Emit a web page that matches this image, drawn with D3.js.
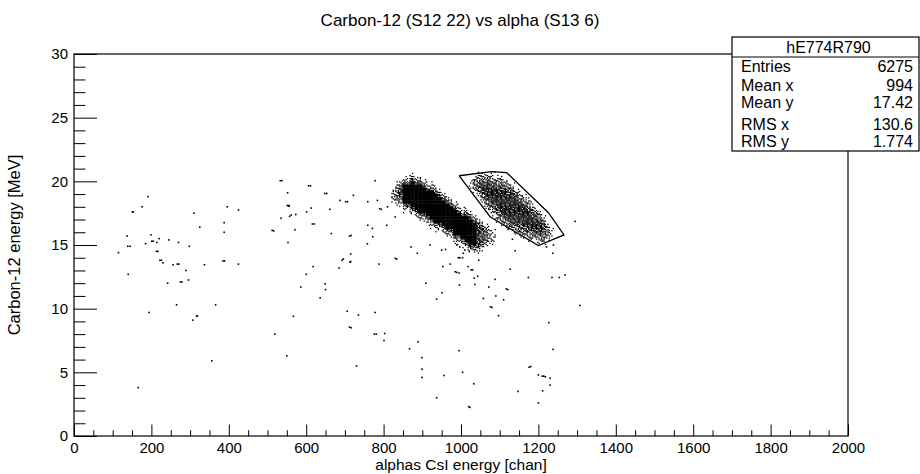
<!DOCTYPE html>
<html>
<head>
<meta charset="utf-8">
<script src="https://cdn.jsdelivr.net/npm/d3@7"></script>
<style>
body { margin: 0; background: #fff; }
text { font-family: "Liberation Sans", Arial, sans-serif; fill: #000; }
</style>
</head>
<body>
<svg id="chart" width="920" height="474"></svg>
<script>
// scattered single events: x = CsI channel, y = Carbon-12 energy (MeV)
var looseX = [115,151,153,176,191,137,139,145,140,199,185,201,205,214,220,213,217,222,226,230,
  242,256,267,271,245,270,298,289,275,279,296,265,194,310,325,337,307,317,319,366,356,166,
  385,389,388,388,396,425,425,512,516,533,537,552,551,556,555,535,557,561,573,571,553,601,
  613,606,611,616,621,648,653,661,687,702,707,722,665,712,716,715,696,693,713,715,685,618,
  600,586,649,650,636,567,706,712,716,735,519,550,730,
  778,759,790,794,784,759,771,772,758,808,810,830,788,778,776,781,803,801,830,834,871,887,
  909,937,951,953,972,985,989,995,1004,993,997,1006,960,996,1018,1026,1030,1034,1036,1043,
  1046,1058,1072,1088,1076,1080,1090,1097,1117,1121,1110,1127,1140,1174,1235,1254,1269,1307,
  1295,1237,1227,1238,1210,1214,1218,1200,1230,1211,1230,1176,1180,1147,1200,1033,1004,995,
  956,937,1020,1023,899,899,899,889,867,920,950,997,1010,989,1133,1221,1239];
var looseY = [14.4,17.6,17.6,18.0,18.8,15.7,14.9,14.9,12.7,15.8,15.1,15.3,15.3,15.2,15.5,14.5,14.5,13.8,13.8,13.6,
  12.0,13.45,13.5,13.5,15.4,15.2,14.9,13.0,12.1,12.1,12.25,10.3,9.7,17.5,16.4,13.45,9.1,9.4,9.45,10.3,5.9,3.8,
  13.75,13.75,16.75,16.0,18.0,17.75,13.5,16.15,16.1,20.05,20.05,19.1,18.1,18.1,18.05,17.1,17.25,17.35,17.4,16.2,15.2,17.6,
  17.9,19.65,19.65,16.65,16.65,19.05,19.05,17.8,18.5,18.4,18.4,18.9,15.9,15.7,15.75,14.3,13.9,13.8,13.65,13.7,13.2,13.3,
  12.7,11.7,11.95,11.5,10.85,9.4,9.8,8.55,8.5,9.5,8.0,6.3,5.5,
  20.05,18.4,17.85,17.8,18.5,16.55,16.3,15.65,15.1,16.55,18.0,17.2,13.5,9.7,8.0,8.0,8.05,7.5,13.95,13.9,14.85,14.35,
  12.0,10.75,11.25,13.3,13.5,12.9,12.85,12.8,14.0,14.0,14.0,14.35,14.65,11.85,13.3,13.05,13.05,12.4,11.9,12.55,
  13.8,10.8,11.7,12.3,10.15,10.1,11.0,9.45,11.55,11.5,10.7,13.1,14.55,12.45,12.45,12.45,12.65,10.25,
  16.85,14.35,8.9,6.8,4.7,4.7,4.65,4.8,4.55,3.55,4.0,5.4,5.45,3.5,2.6,4.1,5.0,6.7,
  4.75,3.0,2.3,2.25,6.15,5.25,4.6,7.4,6.85,15.0,14.6,14.85,14.6,15.0,15.45,14.85,15.0];

// dense bands: event density level (0-9) in cells of 10 chan x 0.25 MeV,
// first column starts at 820 chan, first row is 21.0 - 20.75 MeV
var gridX0 = 820, gridDx = 10, gridY0 = 21, gridDy = 0.25;
var gridRows = [
  "00000000000000000000000000000000000000000000",
  "00000100000000000000001111100000000000000000",
  "00011311000000000000014444111000000000000000",
  "00133633100000000000144444444100000000000000",
  "01366966311000000000146666644411000000000000",
  "03699999633100000000146886666441000000000000",
  "15799999966310000000144888886664100000000000",
  "35799999999631000000014688888866410000000000",
  "35799999999963100000001488888886641000000000",
  "35699999999996310000000468888888644100000000",
  "13399999999999631000000146888888864410000000",
  "01166999999999963100000046688888886410000000",
  "00033699999999996311000014668888888641000000",
  "00011369999999999633100001468888888864100000",
  "00000136699999999966310000146888888866410000",
  "00000013369999999999631000144688888886410000",
  "00000001136999999999963100014466888888640000",
  "00000000013669999999996310001446668888861000",
  "00000000001336999999997631000144466688864100",
  "00000000000113669999997653100011446666864100",
  "00000000000001339999997653200001144446664100",
  "00000000000000116699997653200000011444444100",
  "00000000000000003369997653200000000111441000",
  "00000000000000001136997631100000000001110000",
  "00000000000000000013666310000000000000000000",
  "00000000000000000001333100000000000000000000",
  "00000000000000000000111000000000000000000000"
];

// graphical cut drawn around the second band
var cutX = [995, 1079, 1118, 1226, 1266, 1200, 1075, 995];
var cutY = [20.44, 20.76, 20.68, 17.54, 15.79, 14.95, 17.22, 20.44];

var histName = "hE774R790";
var statNames = ["Entries", "Mean x", "Mean y", "RMS x", "RMS y"];
var statValues = ["6275", "994", "17.42", "130.6", "1.774"];

var xMajor = d3.range(0, 2001, 200);
var xMinor = d3.range(0, 2001, 50).filter(function(v) { return v % 200 != 0; });
var yMajor = d3.range(0, 31, 5);
var yMinor = d3.range(0, 31, 1).filter(function(v) { return v % 5 != 0; });

var padL = 74, padR = 848, padT = 54, padB = 436;

var x = d3.scaleLinear().domain([0, 2000]).range([padL, padR]);
var y = d3.scaleLinear().domain([0, 30]).range([padB, padT]);

var svg = d3.select("#chart");

// title
svg.append("text")
  .attr("x", 460).attr("y", 26)
  .attr("text-anchor", "middle")
  .style("font-size", "17px")
  .text("Carbon-12 (S12 22) vs alpha (S13 6)");

var plot = svg.append("g");

// dense bands as dithered cells
var order = [4, 0, 8, 2, 6, 1, 7, 3, 5];
var cells = [];
gridRows.forEach(function(row, j) {
  for (var i = 0; i < row.length; i++) {
    var n = +row[i];
    if (n > 0) cells.push({ i: i, j: j, n: n });
  }
});

cells.filter(function(c) { return c.n == 9; }).forEach(function(c) {
  var x0 = gridX0 + c.i * gridDx, y0 = gridY0 - c.j * gridDy;
  plot.append("rect")
    .attr("x", x(x0) - 0.2)
    .attr("y", y(y0) - 0.2)
    .attr("width", x(x0 + gridDx) - x(x0) + 0.4)
    .attr("height", y(y0 - gridDy) - y(y0) + 0.4)
    .attr("fill", "#000");
});

var dots = [];
cells.filter(function(c) { return c.n < 9; }).forEach(function(c) {
  var rot = (c.i * 4 + c.j * 7) % 9;
  for (var k = 0; k < c.n; k++) {
    var s = order[(k + rot) % 9];
    dots.push({
      vx: gridX0 + gridDx * (c.i + ((s % 3) + 0.5) / 3),
      vy: gridY0 - gridDy * (c.j + (Math.floor(s / 3) + 0.5) / 3)
    });
  }
});

plot.selectAll("rect.dot")
  .data(dots)
  .enter().append("rect")
  .attr("class", "dot")
  .attr("x", function(d) { return x(d.vx) - 0.65; })
  .attr("y", function(d) { return y(d.vy) - 0.65; })
  .attr("width", 1.3)
  .attr("height", 1.3)
  .attr("fill", "#000");

// loose events
plot.selectAll("rect.ev")
  .data(looseX)
  .enter().append("rect")
  .attr("class", "ev")
  .attr("x", function(d) { return x(d) - 0.8; })
  .attr("y", function(d, i) { return y(looseY[i]) - 0.8; })
  .attr("width", 1.6)
  .attr("height", 1.6)
  .attr("fill", "#000");

// cut polygon
var cutLine = d3.line()
  .x(function(d) { return x(d); })
  .y(function(d, i) { return y(cutY[i]); });
plot.append("path")
  .attr("d", cutLine(cutX))
  .attr("fill", "none")
  .attr("stroke", "#000")
  .attr("stroke-width", 1.3);

// axes (ROOT style: ticks inside the frame)
var gx = svg.append("g").attr("transform", "translate(0," + padB + ")");
gx.call(d3.axisBottom(x).tickValues(xMajor).tickSize(-11.5).tickPadding(6).tickFormat(d3.format("d")));
gx.call(function(g) { g.select(".domain").remove(); });
gx.selectAll("text").style("font-size", "15px").attr("font-family", null);
svg.append("g").attr("transform", "translate(0," + padB + ")")
  .call(d3.axisBottom(x).tickValues(xMinor).tickSize(-5.7).tickFormat(""))
  .call(function(g) { g.select(".domain").remove(); });

var gy = svg.append("g").attr("transform", "translate(" + padL + ",0)");
gy.call(d3.axisLeft(y).tickValues(yMajor).tickSize(-23).tickPadding(6).tickFormat(d3.format("d")));
gy.call(function(g) { g.select(".domain").remove(); });
gy.selectAll("text").style("font-size", "15px").attr("font-family", null);
svg.append("g").attr("transform", "translate(" + padL + ",0)")
  .call(d3.axisLeft(y).tickValues(yMinor).tickSize(-11.5).tickFormat(""))
  .call(function(g) { g.select(".domain").remove(); });

svg.selectAll(".tick line").attr("stroke", "#000");

// frame
svg.append("rect")
  .attr("x", padL).attr("y", padT)
  .attr("width", padR - padL).attr("height", padB - padT)
  .attr("fill", "none").attr("stroke", "#000").attr("stroke-width", 1.2);

// axis titles
svg.append("text")
  .attr("x", (padL + padR) / 2).attr("y", 470)
  .attr("text-anchor", "middle")
  .style("font-size", "15.5px")
  .text("alphas CsI energy [chan]");

svg.append("text")
  .attr("transform", "translate(20," + ((padT + padB) / 2) + ") rotate(-90)")
  .attr("text-anchor", "middle")
  .style("font-size", "16.5px")
  .text("Carbon-12 energy [MeV]");

// statistics box
var bx = 732, bw = 187, by = 37, bh = 114;
var stats = svg.append("g");
stats.append("rect")
  .attr("x", bx).attr("y", by).attr("width", bw).attr("height", bh)
  .attr("fill", "#fff").attr("stroke", "#000").attr("stroke-width", 1.2);
stats.append("line")
  .attr("x1", bx).attr("x2", bx + bw).attr("y1", 57).attr("y2", 57)
  .attr("stroke", "#000").attr("stroke-width", 1);
stats.append("text")
  .attr("x", bx + bw / 2 + 3).attr("y", 53)
  .attr("text-anchor", "middle")
  .style("font-size", "16px")
  .text(histName);
var rowBase = [71.5, 91, 108, 130, 146.5];
stats.selectAll("text.sn")
  .data(statNames)
  .enter().append("text")
  .attr("class", "sn")
  .attr("x", 741)
  .attr("y", function(d, i) { return rowBase[i]; })
  .style("font-size", "16px")
  .text(function(d) { return d; });
stats.selectAll("text.sv")
  .data(statValues)
  .enter().append("text")
  .attr("class", "sv")
  .attr("x", 913)
  .attr("y", function(d, i) { return rowBase[i]; })
  .attr("text-anchor", "end")
  .style("font-size", "16px")
  .text(function(d) { return d; });
</script>
</body>
</html>
